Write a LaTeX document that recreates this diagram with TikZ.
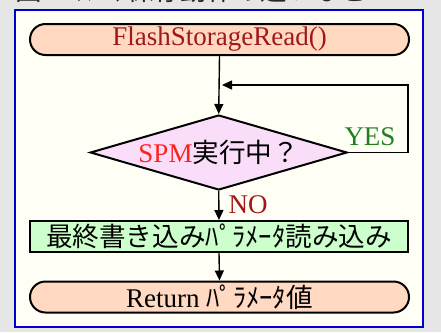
\documentclass[tikz,border=0pt]{standalone}
\usepackage{fontspec}
\setmainfont{Liberation Serif}
\newfontfamily\jp{Noto Sans CJK JP}
\usetikzlibrary{shapes.geometric,arrows.meta}
\definecolor{bgGray}{HTML}{E6E6E6}
\definecolor{panel}{HTML}{FFFFF5}
\definecolor{frameBlue}{HTML}{0000CC}
\definecolor{peach}{HTML}{FFD9C2}
\definecolor{pinkish}{HTML}{F9DDF9}
\definecolor{lgreen}{HTML}{CCFFCC}
\definecolor{dred}{HTML}{A01818}
\definecolor{bred}{HTML}{FF2020}
\definecolor{dgreen}{HTML}{208020}
\newcommand{\jfs}{\fontsize{26.6}{29}\selectfont}
\tikzset{
  x=1pt,y=-1pt,
  every node/.style={font=\fontsize{27}{30}\selectfont, inner sep=0pt},
  terminal/.style={draw=black, line width=2pt, fill=peach, rounded corners=15.5pt, minimum width=379pt, minimum height=31pt},
  decision/.style={draw=black, line width=2pt, fill=pinkish, diamond, aspect=3.43, minimum width=257pt, minimum height=75pt},
  procbox/.style={draw=black, line width=2pt, fill=lgreen, minimum width=378pt, minimum height=31pt},
  flow/.style={draw=black, line width=1.4pt, -{Triangle[length=10pt,width=9pt]}}
}
\begin{document}
\begin{tikzpicture}
\useasboundingbox[fill=bgGray] (0,0) rectangle (441,332);
\node[anchor=base west, text=black!85, font=\jp\jfs] (title) at (15,0.5) {図 ﾊﾟﾗﾒｰﾀ保存動作の違いなど};
\draw[draw=frameBlue, line width=2pt, fill=panel] (15,10) rectangle (423,327);
\node[terminal, text=dred] (start) at (219.5,39.5) {FlashStorageRead()};
\node[decision] (dec) at (218.7,152.5) {\textcolor{bred}{SPM}{\jp\jfs 実行中？}};
\node[procbox, font=\jp\jfs] (proc) at (219,236.5) {最終書き込みﾊﾟﾗﾒｰﾀ読み込み};
\node[terminal] (stop) at (219.5,297) {Return {\jp\jfs ﾊﾟﾗﾒｰﾀ値}};
\coordinate (loop) at (408,85);
\coordinate (merge) at (222,85);
\draw[flow] (start.south) -- (dec.north);
\draw[flow] (dec.east) -| (loop) -- (merge);
\draw[flow] (dec.south) -- (proc.north);
\draw[flow] (proc.south) -- (stop.north);
\node[text=dgreen] (yes) at (370,137) {YES};
\node[text=dred] (no) at (248,205) {NO};
\end{tikzpicture}
\end{document}
